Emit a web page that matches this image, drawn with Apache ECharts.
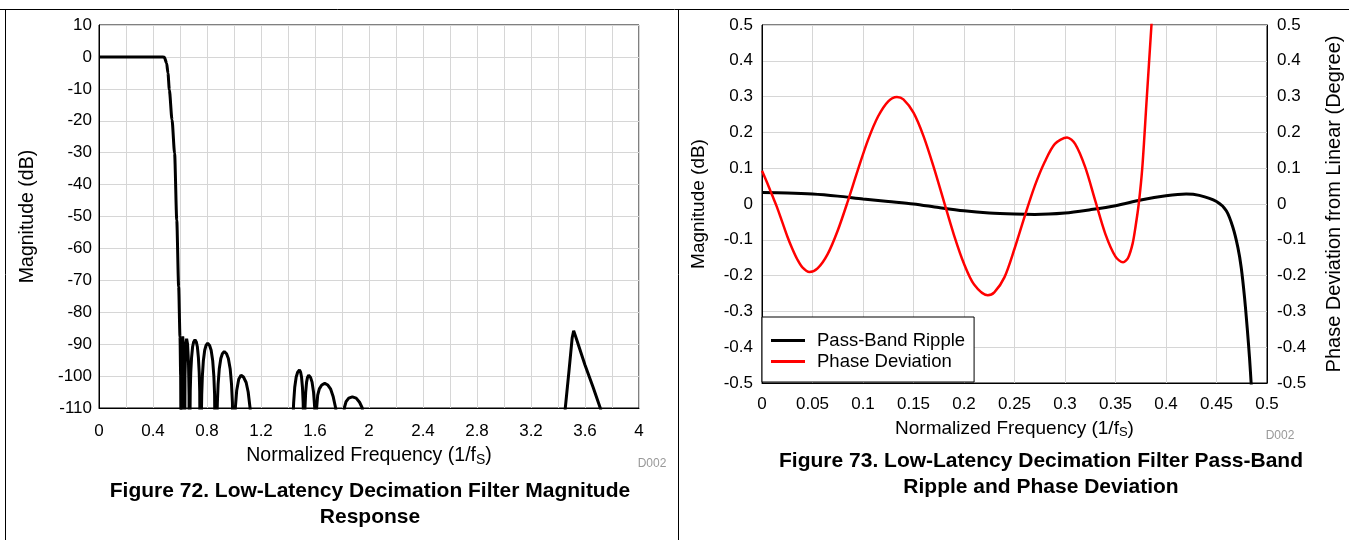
<!DOCTYPE html>
<html>
<head>
<meta charset="utf-8">
<script src="https://cdn.jsdelivr.net/npm/echarts@6/dist/echarts.min.js"></script>
<style>
  html, body { margin: 0; padding: 0; background: #fff; }
  #chart { width: 1349px; height: 540px; }
</style>
</head>
<body>
<div id="chart"></div>
<script>
// ---------- DATA ----------
// Figure 72: magnitude response [normalized frequency, dB]
const passBandEdge = [
  [0, 0], [0.1, 0], [0.2, 0], [0.3, 0], [0.4, 0], [0.46, 0], [0.484, -0.1], [0.501, -2],
  [0.511, -5.1], [0.521, -10.3], [0.541, -19.7], [0.56, -30.2], [0.576, -51.1],
  [0.59, -72], [0.6, -87.7], [0.605, -100], [0.608, -135]
];
const sideLobes1 = [
  [0.609, -135], [0.613, -97], [0.616, -89.5], [0.62, -87.6], [0.624, -89.5], [0.629, -97], [0.634, -135],
  [0.637, -100], [0.642, -91], [0.649, -88.3], [0.656, -90], [0.663, -96], [0.667, -106], [0.669, -135],
  [0.672, -135], [0.6759, -104.7], [0.6798, -98.8], [0.6857, -94.2], [0.6935, -90.8], [0.7013, -89.3], [0.711, -88.6],
  [0.7207, -89.3], [0.7285, -90.8], [0.7363, -94.2], [0.7422, -98.8], [0.7461, -104.7], [0.75, -135],
  [0.756, -135], [0.7609, -105.8], [0.7658, -99.9], [0.7732, -95.1], [0.783, -91.9], [0.7928, -90.4], [0.805, -89.7],
  [0.8193, -90.4], [0.8307, -91.9], [0.8421, -95.1], [0.8506, -99.9], [0.8563, -105.8], [0.862, -135],
  [0.871, -135], [0.8767, -108.4], [0.8824, -102.5], [0.891, -97.7], [0.9024, -94.5], [0.9138, -93.0], [0.928, -92.3],
  [0.9448, -93.0], [0.9582, -94.5], [0.9716, -97.7], [0.9816, -102.5], [0.9883, -108.4], [0.995, -135],
  [0.997, -135], [1.003, -115], [1.01, -110], [1.02, -104.5], [1.035, -101], [1.052, -99.7],
  [1.07, -100.3], [1.09, -102], [1.105, -105], [1.119, -110], [1.127, -115], [1.135, -135]
];
const sideLobes2 = [
  [1.431, -135], [1.4364, -114.2], [1.4418, -108.3], [1.4499, -103.5], [1.4607, -100.3], [1.4715, -98.8], [1.485, -98.1],
  [1.4935, -98.8], [1.5003, -100.3], [1.5071, -103.5], [1.5122, -108.3], [1.5156, -114.2], [1.519, -135],
  [1.5224, -115.8], [1.5258, -109.9], [1.5309, -105.1], [1.5377, -101.9], [1.5445, -100.4], [1.553, -99.7],
  [1.567, -100.4], [1.5782, -101.9], [1.5894, -105.1], [1.5978, -109.9], [1.6034, -115.8], [1.607, -135],
  [1.612, -110], [1.62, -106], [1.632, -104], [1.65, -102.8], [1.672, -102.3],
  [1.695, -102.8], [1.715, -104], [1.735, -106.5], [1.753, -110], [1.765, -114], [1.78, -135],
  [1.8, -125], [1.817, -110], [1.83, -108], [1.85, -106.9], [1.877, -106.5], [1.905, -106.9], [1.93, -108.2],
  [1.95, -110], [1.97, -125]
];
const imageLobe = [
  [3.44, -118], [3.454, -110], [3.48, -99], [3.505, -88], [3.516, -85.8], [3.53, -87.5],
  [3.6, -96.5], [3.66, -103.5], [3.713, -110], [3.73, -113], [4, -135]
];

// Figure 73: pass-band ripple (dB) and phase deviation (degree) vs normalized frequency
const passBandRipple = [
  [0, 0.032], [0.025, 0.031], [0.05, 0.028], [0.075, 0.022], [0.1, 0.014], [0.125, 0.007],
  [0.15, 0.0], [0.175, -0.01], [0.2, -0.019], [0.225, -0.025], [0.25, -0.028], [0.27, -0.029],
  [0.3, -0.025], [0.325, -0.016], [0.35, -0.005], [0.375, 0.011], [0.4, 0.023], [0.42, 0.028],
  [0.433, 0.024], [0.45, 0.007], [0.4597, -0.019], [0.4662, -0.065], [0.4712, -0.122],
  [0.4745, -0.178], [0.4778, -0.262], [0.4804, -0.346], [0.4827, -0.43], [0.4844, -0.505], [0.486, -0.58]
];
const phaseDeviation = [
  [0, 0.093], [0.005, 0.06], [0.01, 0.025], [0.015, -0.01], [0.02, -0.05], [0.025, -0.09],
  [0.03, -0.125], [0.035, -0.155], [0.04, -0.177], [0.047, -0.19], [0.055, -0.18], [0.065, -0.14],
  [0.075, -0.074], [0.085, 0.008], [0.095, 0.096], [0.105, 0.179], [0.115, 0.245], [0.125, 0.287],
  [0.1336, 0.299], [0.14, 0.292], [0.15, 0.255], [0.16, 0.189], [0.17, 0.103], [0.18, 0.008],
  [0.19, -0.086], [0.2, -0.167], [0.21, -0.225], [0.2235, -0.255], [0.23, -0.247], [0.24, -0.205],
  [0.25, -0.125], [0.26, -0.035], [0.27, 0.05], [0.28, 0.118], [0.29, 0.168], [0.302, 0.186],
  [0.31, 0.168], [0.32, 0.103], [0.33, 0.009], [0.34, -0.084], [0.35, -0.147], [0.3575, -0.163],
  [0.3625, -0.15], [0.367, -0.11], [0.37, -0.06], [0.373, 0.0], [0.3765, 0.1], [0.3806, 0.28],
  [0.3856, 0.5], [0.389, 0.65]
];

const seriesNames = ['Pass-Band Ripple', 'Phase Deviation'];
const titles72 = ['Figure 72. Low-Latency Decimation Filter Magnitude', 'Response'];
const titles73 = ['Figure 73. Low-Latency Decimation Filter Pass-Band', 'Ripple and Phase Deviation'];

// ---------- CHART ----------
const FONT = "'Liberation Sans', Arial, Helvetica, sans-serif";
const GRIDC = '#d6d6d6';
const chart = echarts.init(document.getElementById('chart'), null, { renderer: 'canvas' });

function freqName(size) {
  return {
    name: '{n|Normalized Frequency (1/f}{s|S}{n|)}',
    nameLocation: 'middle',
    nameTextStyle: {
      rich: {
        n: { fontSize: size, color: '#000', fontFamily: FONT, lineHeight: 22 },
        s: { fontSize: Math.round(size * 0.7), color: '#000', fontFamily: FONT, lineHeight: 22, padding: [8, 0, 0, 0] }
      }
    }
  };
}
function xAx(grid, max, interval, gap, margin, minor, nameSize) {
  return Object.assign({
    gridIndex: grid, type: 'value', min: 0, max: max, interval: interval,
    nameGap: gap,
    axisLine: { show: true, onZero: false, lineStyle: { color: '#000', width: 1 } },
    axisTick: { show: false },
    axisLabel: { color: '#000', fontSize: 17, fontFamily: FONT, margin: margin },
    splitLine: { show: true, lineStyle: { color: GRIDC, width: 1 } },
    minorTick: { show: false, splitNumber: minor || 5 },
    minorSplitLine: { show: !!minor, lineStyle: { color: GRIDC, width: 1 } }
  }, freqName(nameSize));
}
function yAx(grid, min, max, interval, name, gap, pos, split, nameSize, margin) {
  return {
    gridIndex: grid, type: 'value', min: min, max: max, interval: interval, position: pos,
    name: name, nameLocation: 'middle', nameGap: gap,
    nameTextStyle: { fontSize: nameSize, color: '#000', fontFamily: FONT },
    axisLine: { show: true, onZero: false, lineStyle: { color: '#000', width: 1 } },
    axisTick: { show: false },
    axisLabel: { color: '#000', fontSize: 17, fontFamily: FONT, margin: margin },
    splitLine: { show: split, lineStyle: { color: GRIDC, width: 1 } }
  };
}
function lineSeries(name, data, color, x, y, width) {
  return {
    name: name, type: 'line', data: data, xAxisIndex: x, yAxisIndex: y,
    showSymbol: false, symbol: 'none', clip: true,
    lineStyle: { color: color, width: width }, itemStyle: { color: color },
    smooth: false, animation: false
  };
}
function txt(x, y, s, size, bold, color) {
  return { type: 'text', x: x, y: y, style: { text: s, fill: color || '#000', font: (bold ? 'bold ' : '') + size + 'px ' + FONT, textAlign: 'center', textVerticalAlign: 'middle' } };
}

const option = {
  animation: false,
  backgroundColor: '#fff',
  textStyle: { fontFamily: FONT },
  grid: [
    { left: 99, top: 25, width: 540, height: 383, show: true, borderColor: '#000', borderWidth: 1, backgroundColor: 'transparent' },
    { left: 762, top: 25, width: 505, height: 358, show: true, borderColor: '#000', borderWidth: 1, backgroundColor: 'transparent' }
  ],
  xAxis: [
    xAx(0, 4, 0.4, 36, 15, 2, 19.5),
    xAx(1, 0.5, 0.05, 32, 13, 0, 19)
  ],
  yAxis: [
    yAx(0, -110, 10, 10, 'Magnitude (dB)', 61, 'left', true, 19.5, 7),
    yAx(1, -0.5, 0.5, 0.1, 'Magnitude (dB)', 54, 'left', true, 19, 9),
    yAx(1, -0.5, 0.5, 0.1, 'Phase Deviation from Linear (Degree)', 57, 'right', false, 20, 10)
  ],
  legend: {
    data: seriesNames,
    orient: 'vertical',
    left: 762, top: 317,
    icon: 'rect', itemWidth: 34, itemHeight: 3, itemGap: 0,
    padding: [13, 9, 10, 9],
    backgroundColor: '#fff', borderColor: '#000', borderWidth: 1, borderRadius: 0,
    textStyle: { fontSize: 18.5, lineHeight: 21, color: '#000', fontFamily: FONT, padding: [0, 0, 0, 7] },
    selectedMode: false
  },
  series: [
    Object.assign(lineSeries('Magnitude', passBandEdge, '#000', 0, 0, 3), { smooth: 0.25, smoothMonotone: 'x' }),
    lineSeries('Magnitude lobes A', sideLobes1, '#000', 0, 0, 3),
    lineSeries('Magnitude lobes B', sideLobes2, '#000', 0, 0, 3),
    lineSeries('Magnitude image', imageLobe, '#000', 0, 0, 3),
    Object.assign(lineSeries(seriesNames[0], passBandRipple, '#000', 1, 1, 3), { smooth: 0.3 }),
    Object.assign(lineSeries(seriesNames[1], phaseDeviation, '#ff0000', 1, 2, 2.5), { smooth: 0.3 })
  ],
  graphic: [
    { type: 'line', shape: { x1: 0, y1: 9.5, x2: 1349, y2: 9.5 }, style: { stroke: '#000', lineWidth: 1 } },
    { type: 'line', shape: { x1: 5.5, y1: 9, x2: 5.5, y2: 540 }, style: { stroke: '#000', lineWidth: 1 } },
    { type: 'line', shape: { x1: 678.5, y1: 9, x2: 678.5, y2: 540 }, style: { stroke: '#000', lineWidth: 1 } },
    txt(652, 464, 'D002', 12, false, '#999'),
    txt(1280, 436, 'D002', 12, false, '#999'),
    txt(370, 491, titles72[0], 21, true),
    txt(370, 517, titles72[1], 21, true),
    txt(1041, 461, titles73[0], 21, true),
    txt(1041, 487, titles73[1], 21, true)
  ]
};
chart.setOption(option);
</script>
</body>
</html>
